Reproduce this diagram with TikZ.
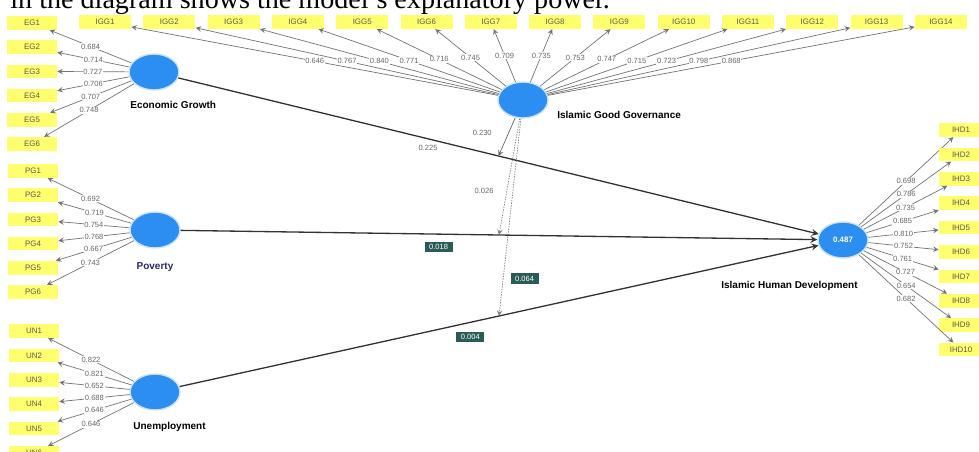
\documentclass[tikz,border=0pt]{standalone}
\usepackage{fontspec}
\setmainfont{Liberation Serif}
\setsansfont{Liberation Sans}
\usepackage{xcolor,tikz}
\definecolor{lvblue}{RGB}{45,142,242}
\definecolor{indyellow}{RGB}{255,255,110}
\definecolor{coefteal}{RGB}{42,92,86}
\definecolor{pvnavy}{RGB}{40,40,105}
\usetikzlibrary{arrows,calc,positioning,shapes.geometric}
\tikzset{>=stealth}
\tikzset{
  lvar/.style={ellipse,fill=lvblue,draw=lvblue!25,line width=0.8pt,minimum width=1cm,minimum height=0.72cm,inner sep=0pt},
  indbox/.style={rectangle,fill=indyellow,minimum width=1cm,minimum height=0.27cm,inner sep=0pt,text=black!65,font=\sffamily\fontsize{4.5}{5}\selectfont},
  lod/.style={->,black!55,line width=0.4pt},
  lodlbl/.style={fill=white,inner sep=0.4pt,text=black!60,font=\sffamily\fontsize{4.3}{5}\selectfont},
  lvname/.style={inner sep=0pt,font=\sffamily\bfseries\fontsize{5.7}{6}\selectfont},
  strline/.style={->,black!80,line width=0.75pt},
  modsolid/.style={->,black!60,line width=0.4pt},
  modline/.style={->,black!50,line width=0.4pt,dash pattern=on 0.8pt off 0.7pt},
  coefbox/.style={fill=coefteal,text=white!85,inner sep=0pt,minimum width=0.56cm,minimum height=0.21cm,font=\sffamily\fontsize{4.3}{5}\selectfont}
}

\begin{document}
\begin{tikzpicture}[x=0.02cm,y=-0.02cm]
\useasboundingbox (0,0) rectangle (979,452);
\node[anchor=base west,inner sep=0pt,font=\fontsize{16}{18}\selectfont] (title) at (10,9) {in the diagram shows the model's explanatory power.};

% latent variables
\node[lvar] (eg) at (154,72) {};
\node[lvar] (pv) at (155,230) {};
\node[lvar] (un) at (155,392) {};
\node[lvar] (igg) at (523,100) {};
\node[lvar,font=\sffamily\bfseries\fontsize{4.5}{5}\selectfont,text=white] (ihd) at (843,240) {0.487};
\node[lvname,anchor=west] (egname) at (130,105) {Economic Growth};
\node[lvname,text=pvnavy] (pvname) at (155,267) {Poverty};
\node[lvname,anchor=west] (unname) at (133,427) {Unemployment};
\node[lvname,anchor=west] (iggname) at (557,115) {Islamic Good Governance};
\node[lvname,anchor=east] (ihdname) at (858,286) {Islamic Human Development};

% indicators
\foreach \i/\v in {1/0.684,2/0.714,3/0.727,4/0.706,5/0.707,6/0.748} {
\node[indbox] (eg\i) at (32,{23+24.2*(\i-1)}) {EG\i};
\draw[lod] (eg) -- (eg\i) node[lodlbl,pos=0.5] {\v};
};
\foreach \i/\v in {1/0.692,2/0.719,3/0.754,4/0.768,5/0.667,6/0.743} {
\node[indbox] (pv\i) at (33,{171+24.2*(\i-1)}) {PG\i};
\draw[lod] (pv) -- (pv\i) node[lodlbl,pos=0.5] {\v};
};
\foreach \i/\v in {1/0.822,2/0.821,3/0.652,4/0.688,5/0.646,6/0.646} {
\node[indbox] (un\i) at (34,{331+24.4*(\i-1)}) {UN\i};
\draw[lod] (un) -- (un\i) node[lodlbl,pos=0.5] {\v};
};
\foreach \i/\v in {1/0.646,2/0.767,3/0.840,4/0.771,5/0.716,6/0.745,7/0.709,8/0.735,9/0.753,10/0.747,11/0.715,12/0.723,13/0.798,14/0.868} {
\node[indbox,minimum width=1.04cm] (igg\i) at ({105+64.3*(\i-1)},22) {IGG\i};
\draw[lod] (igg) -- (igg\i) node[lodlbl,pos=0.5] {\v};
};
\foreach \i/\v in {1/0.698,2/0.786,3/0.735,4/0.685,5/0.810,6/0.752,7/0.761,8/0.727,9/0.654,10/0.682} {
\node[indbox,minimum width=0.88cm] (ihd\i) at (961,{130+24.4*(\i-1)}) {IHD\i};
\draw[lod] (ihd) -- (ihd\i) node[lodlbl,pos=0.5] {\v};
};

% structural paths
\draw[strline] (eg) -- (ihd) node[lodlbl,fill=none,pos=0.39,below=3pt] {0.225};
\draw[strline] (pv) -- (ihd) node[coefbox,pos=0.405,below=4pt] {0.018};
\draw[strline] (un) -- (ihd) node[coefbox,pos=0.455,below=5pt] {0.004};

% moderating effects
\coordinate (m1) at ($(eg)!0.5!(ihd)$);
\coordinate (m2) at ($(pv)!0.5!(ihd)$);
\coordinate (m3) at ($(un)!0.5!(ihd)$);
\draw[modsolid] (igg) -- (m1) node[lodlbl,fill=none,pos=0.4,left=9pt] {0.230};
\draw[modline] (igg) -- (m2) node[lodlbl,fill=none,pos=0.62,left=7pt] {0.026};
\draw[modline] (igg) -- (m3) node[coefbox,pos=0.81,right=4pt] {0.064};
\end{tikzpicture}
\end{document}
